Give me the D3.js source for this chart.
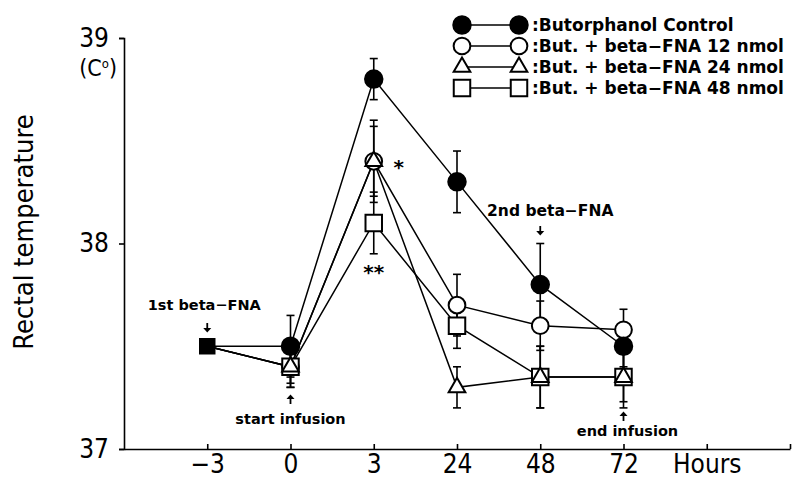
<!DOCTYPE html>
<meta charset="utf-8">
<style>
 body { margin: 0; background: #fff; }
 svg { display: block; }
 .axis path, .axis line { fill: none; stroke: #000; stroke-width: 1.6; }
 .axis text { font-family: "DejaVu Sans Condensed", "DejaVu Sans", sans-serif; font-size: 26px; fill: #000; }
 .note { font-family: "DejaVu Sans", sans-serif; font-weight: bold; font-size: 14.5px; fill: #000; }
 .legend text { font-family: "DejaVu Sans", sans-serif; font-weight: bold; font-size: 17px; fill: #000; }
</style>
<body>
<script src="https://cdn.jsdelivr.net/npm/d3@7"></script>
<script>

 // x slots: blank slot at the y axis, then the sampling times, then "Hours"
 var xSlots = ["", "-3", "0", "3", "24", "48", "72", "Hours", " "];
 var tickLabels = {"-3": "\u22123", "0": "0", "3": "3", "24": "24", "48": "48", "72": "72", "Hours": "Hours"};
 var times = ["0", "3", "24", "48", "72"];

 // pooled pre-treatment value (1st beta-FNA at -3 h)
 var baselineTime = "-3";
 var baselineTemp = 37.5;

 var controlMean = [37.5, 38.8, 38.3, 37.8, 37.5];
 var controlSE   = [0.15, 0.1, 0.15, 0.2, 0.1];
 var fna12Mean   = [37.4, 38.4, 37.7, 37.6, 37.58];
 var fna12SE     = [0.08, 0.2, 0.15, 0.12, 0.1];
 var fna24Mean   = [37.4, 38.4, 37.3, 37.35, 37.35];
 var fna24SE     = [0.1, 0.17, 0.1, 0.15, 0.15];
 var fna48Mean   = [37.4, 38.1, 37.6, 37.35, 37.35];
 var fna48SE     = [0.1, 0.15, 0.11, 0.15, 0.12];

 var seriesNames = [":Butorphanol Control", ":But. + beta\u2212FNA 12 nmol",
                    ":But. + beta\u2212FNA 24 nmol", ":But. + beta\u2212FNA 48 nmol"];

 var yTicks = [37, 38, 39];

 var width = 803, height = 484;

 var x = d3.scalePoint().domain(xSlots).range([124, 790]);
 var y = d3.scaleLinear().domain([37, 39]).range([449, 38]);

 var svg = d3.select("body").append("svg")
             .attr("width", width)
             .attr("height", height);

 var series = [
     {name: seriesNames[1], mean: fna12Mean, se: fna12SE, shape: d3.symbolCircle, size: 220, fill: "#fff"},
     {name: seriesNames[3], mean: fna48Mean, se: fna48SE, shape: d3.symbolSquare, size: 272, fill: "#fff"},
     {name: seriesNames[2], mean: fna24Mean, se: fna24SE, shape: d3.symbolTriangle, size: 120, fill: "#fff"},
     {name: seriesNames[0], mean: controlMean, se: controlSE, shape: d3.symbolCircle, size: 240, fill: "#000"}
 ];
 series.forEach(function(s) {
     s.points = times.map(function(t, i) { return {t: t, v: s.mean[i], se: s.se[i]}; });
 });

 // axes
 var xAxis = d3.axisBottom(x)
               .tickValues(xSlots.slice(1))
               .tickSizeInner(-5).tickSizeOuter(0)
               .tickPadding(6)
               .tickFormat(function(d) { return tickLabels[d] || ""; });
 svg.append("g").attr("class", "axis")
    .attr("transform", "translate(0," + y(37) + ")")
    .call(xAxis);

 var yAxis = d3.axisLeft(y).tickValues(yTicks).tickSize(5).tickPadding(10)
               .tickFormat(d3.format("d"));
 svg.append("g").attr("class", "axis")
    .attr("transform", "translate(" + x("") + ",0)")
    .call(yAxis);

 // unit under the top tick
 var unit = svg.append("text")
    .attr("x", x("") - 7).attr("y", y(39) + 38)
    .attr("text-anchor", "end")
    .style("font-family", "\"DejaVu Sans Condensed\", sans-serif")
    .style("font-size", "23px");
 unit.append("tspan").text("(C");
 unit.append("tspan").attr("dy", -8).style("font-size", "13px").text("o");
 unit.append("tspan").attr("dy", 8).text(")");

 svg.append("text")
    .attr("transform", "translate(33," + 232 + ") rotate(-90)")
    .attr("text-anchor", "middle")
    .style("font-family", "\"DejaVu Sans Condensed\", sans-serif")
    .style("font-size", "27px")
    .text("Rectal temperature");

 // lines
 var line = d3.line()
              .x(function(d) { return x(d.t); })
              .y(function(d) { return y(d.v); });

 series.forEach(function(s) {
     svg.append("path")
        .datum([{t: baselineTime, v: baselineTemp}].concat(s.points))
        .attr("fill", "none")
        .attr("stroke", "#000")
        .attr("stroke-width", 1.5)
        .attr("d", line);
 });

 // error bars
 series.forEach(function(s) {
     var g = svg.append("g").attr("stroke", "#000").attr("stroke-width", 1.6);
     s.points.forEach(function(p) {
         var cx = x(p.t);
         g.append("line").attr("x1", cx).attr("x2", cx)
          .attr("y1", y(p.v + p.se)).attr("y2", y(p.v - p.se));
         [p.v + p.se, p.v - p.se].forEach(function(e) {
             g.append("line").attr("x1", cx - 4).attr("x2", cx + 4)
              .attr("y1", y(e)).attr("y2", y(e));
         });
     });
 });

 // markers
 series.forEach(function(s) {
     svg.append("g").selectAll("path")
        .data(s.points)
        .enter().append("path")
        .attr("transform", function(d) { return "translate(" + x(d.t) + "," + y(d.v) + ")"; })
        .attr("d", d3.symbol().type(s.shape).size(s.size))
        .attr("fill", s.fill)
        .attr("stroke", "#000")
        .attr("stroke-width", 2);
 });

 svg.append("path")
    .attr("transform", "translate(" + x(baselineTime) + "," + y(baselineTemp) + ")")
    .attr("d", d3.symbol().type(d3.symbolSquare).size(272))
    .attr("fill", "#000");

 // annotations
 var notes = [
     {text: "1st beta\u2212FNA", t: "-3", dx: -3, yy: 310, arrow: "down", ay: 328},
     {text: "start infusion", t: "0", yy: 424, arrow: "up", ay: 399},
     {text: "2nd beta\u2212FNA", t: "48", dx: 10, yy: 216, size: 15.5, arrow: "down", ay: 231},
     {text: "end infusion", t: "72", dx: 4, yy: 436, arrow: "up", ay: 416}
 ];
 notes.forEach(function(n) {
     svg.append("text").attr("class", "note")
        .attr("x", x(n.t) + (n.dx || 0)).attr("y", n.yy)
        .attr("text-anchor", "middle")
        .style("font-size", n.size ? n.size + "px" : null)
        .text(n.text);
     var ax = x(n.t), ay = n.ay, dir = n.arrow === "down" ? 1 : -1;
     svg.append("line").attr("x1", ax).attr("x2", ax)
        .attr("y1", ay - 5 * dir).attr("y2", ay)
        .attr("stroke", "#000").attr("stroke-width", 1.8);
     svg.append("path")
        .attr("d", "M" + (ax - 4) + "," + ay + "L" + (ax + 4) + "," + ay + "L" + ax + "," + (ay + 4.5 * dir) + "Z")
        .attr("fill", "#000");
 });

 svg.append("text").attr("class", "note").style("font-size", "20px")
    .attr("x", x("3") + 25).attr("y", y(38.4) + 13).attr("text-anchor", "middle").text("*");
 svg.append("text").attr("class", "note").style("font-size", "20px")
    .attr("x", x("3")).attr("y", y(38.1) + 56).attr("text-anchor", "middle").text("**");

 // legend
 var legendOrder = [series[3], series[0], series[2], series[1]];
 var legend = svg.append("g").attr("class", "legend");
 legendOrder.forEach(function(s, i) {
     var ly = 25 + i * 21;
     var g = legend.append("g").attr("transform", "translate(0," + ly + ")");
     g.append("line").attr("x1", 462).attr("x2", 519).attr("y1", 0).attr("y2", 0)
      .attr("stroke", "#000").attr("stroke-width", 1.5);
     [462, 519].forEach(function(mx) {
         g.append("path")
          .attr("transform", "translate(" + mx + ",0)")
          .attr("d", d3.symbol().type(s.shape).size(s.size))
          .attr("fill", s.fill).attr("stroke", "#000").attr("stroke-width", 2);
     });
     g.append("text").attr("x", 532).attr("y", 0).attr("dy", "0.35em").text(s.name);
 });

</script>
